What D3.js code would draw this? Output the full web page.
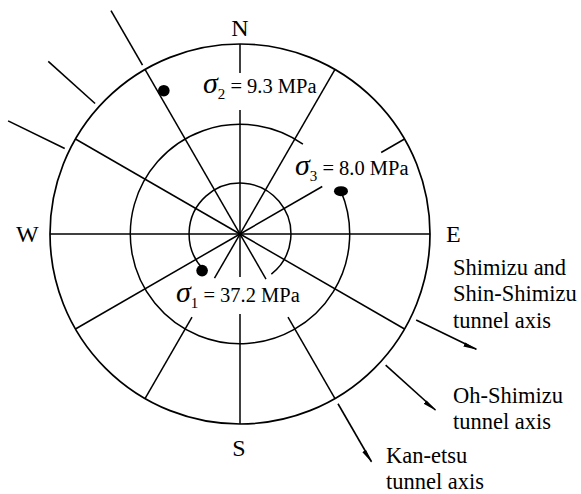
<!DOCTYPE html>
<html>
<head>
<meta charset="utf-8">
<script src="https://cdn.jsdelivr.net/npm/d3@7"></script>
<style>
  body { margin: 0; background: #fff; }
  text { font-family: "Liberation Serif", "Times New Roman", serif; fill: #000; }
</style>
</head>
<body>
<svg id="chart" width="581" height="494"></svg>
<script>
// Stereographic net: small circles of equal plunge and azimuth spokes
const gridPlunges = [0, 30, 60];
const spokeAzimuths = [0, 30, 60, 90, 120, 150, 180, 210, 240, 270, 300, 330];
const compassLabels = ["N", "E", "S", "W"];
const compassAzimuths = [0, 90, 180, 270];

// Principal stresses (azimuth / plunge in degrees, magnitude in MPa)
const stressIndex = ["1", "2", "3"];
const stressValues = [37.2, 9.3, 8.0];
const stressAzimuths = [226, 332, 67];
const stressPlunges = [59, 9, 30];

// Tunnel axes (trend in degrees)
const tunnelLabels = [
  ["Shimizu and", "Shin-Shimizu", "tunnel axis"],
  ["Oh-Shimizu", "tunnel axis"],
  ["Kan-etsu", "tunnel axis"]
];
const tunnelAzimuths = [116, 132, 150];

const svg = d3.select("#chart");
const cx = 240, cy = 234, R = 190;

// radius of a plunge on the stereographic projection
const rScale = d3.scaleLinear().domain([0, 1]).range([0, R]);
const rOf = p => rScale(Math.tan((90 - p) / 2 * Math.PI / 180));
const angle = d3.scaleLinear().domain([0, 360]).range([0, 2 * Math.PI]);
const pt = (az, r) => [cx + r * Math.sin(angle(az)), cy - r * Math.cos(angle(az))];

const ink = "#000";
const g = svg.append("g");

// Small circles, opened where labels sit (azimuth spans drawn clockwise)
const circleSpans = { 0: [0, 360], 30: [67, 395], 60: [226, 502] };
gridPlunges.forEach(p => {
  const [a0, a1] = circleSpans[p];
  const path = d3.path();
  path.arc(cx, cy, rOf(p), angle(a0 - 90), angle(a1 - 90), false);
  g.append("path").attr("d", path.toString())
    .attr("fill", "none").attr("stroke", ink).attr("stroke-width", p === 0 ? 1.7 : 1.5);
});

// Spokes, with breaks around the stress labels (pixel radii)
const spokeBreaks = {
  0: [[0, 124], [161, R]],
  60: [[0, 95], [163, R]],
  150: [[0, 52], [96, R]],
  180: [[0, 43], [80, R]],
  210: [[0, 51], [96, R]]
};
spokeAzimuths.forEach(az => {
  (spokeBreaks[az] || [[0, R]]).forEach(([r0, r1]) => {
    const a = pt(az, r0), b = pt(az, r1);
    g.append("line").attr("x1", a[0]).attr("y1", a[1]).attr("x2", b[0]).attr("y2", b[1])
      .attr("stroke", ink).attr("stroke-width", 1.5);
  });
});

// Compass letters
const compassPos = [
  { x: 240, y: 36, anchor: "middle" },
  { x: 446, y: 242, anchor: "start" },
  { x: 239, y: 456, anchor: "middle" },
  { x: 16, y: 242, anchor: "start" }
];
compassLabels.forEach((t, i) => {
  g.append("text").attr("x", compassPos[i].x).attr("y", compassPos[i].y)
    .attr("text-anchor", compassPos[i].anchor).attr("font-size", 24).text(t);
});

// Tunnel axes: tail on the far side, arrow on the near side
svg.append("defs").append("marker")
  .attr("id", "head").attr("markerUnits", "userSpaceOnUse")
  .attr("viewBox", "0 -4 14 8").attr("refX", 13).attr("refY", 0)
  .attr("markerWidth", 14).attr("markerHeight", 8).attr("orient", "auto")
  .append("path").attr("d", "M0,-1.2 L14,0 L0,3.2 Z").attr("fill", ink);

tunnelAzimuths.forEach(az => {
  const a = pt(az, R + 6), b = pt(az, R + 73);
  g.append("line").attr("x1", a[0]).attr("y1", a[1]).attr("x2", b[0]).attr("y2", b[1])
    .attr("stroke", ink).attr("stroke-width", 1.6).attr("marker-end", "url(#head)");
  const c = pt(az + 180, R + 5), d = pt(az + 180, R + 68);
  g.append("line").attr("x1", c[0]).attr("y1", c[1]).attr("x2", d[0]).attr("y2", d[1])
    .attr("stroke", ink).attr("stroke-width", 1.6);
});

const tunnelPos = [[453, 275], [453, 403], [386, 463]];
tunnelLabels.forEach((lines, i) => {
  const t = g.append("text").attr("font-size", 22.5);
  lines.forEach((s, j) => {
    t.append("tspan").attr("x", tunnelPos[i][0]).attr("y", tunnelPos[i][1] + j * 26.3).text(s);
  });
});

// Stress poles
stressIndex.forEach((k, i) => {
  const [x, y] = pt(stressAzimuths[i], rOf(stressPlunges[i]));
  if (k === "3") {
    g.append("ellipse").attr("cx", x).attr("cy", y).attr("rx", 7).attr("ry", 5).attr("fill", ink);
  } else {
    g.append("circle").attr("cx", x).attr("cy", y).attr("r", 5.8).attr("fill", ink);
  }
});

// Stress labels
const stressLabelPos = { "1": [176, 301.5], "2": [203, 93.3], "3": [295, 175] };
stressIndex.forEach((k, i) => {
  const [x, y] = stressLabelPos[k];
  const t = g.append("text").attr("x", x).attr("y", y).attr("font-size", 20.5);
  t.append("tspan").attr("font-size", 30).attr("font-style", "italic").text("σ");
  t.append("tspan").attr("font-size", 15).attr("dy", 6).text(k);
  t.append("tspan").attr("dy", -6).text(" = " + stressValues[i].toFixed(1) + " MPa");
});
</script>
</body>
</html>
